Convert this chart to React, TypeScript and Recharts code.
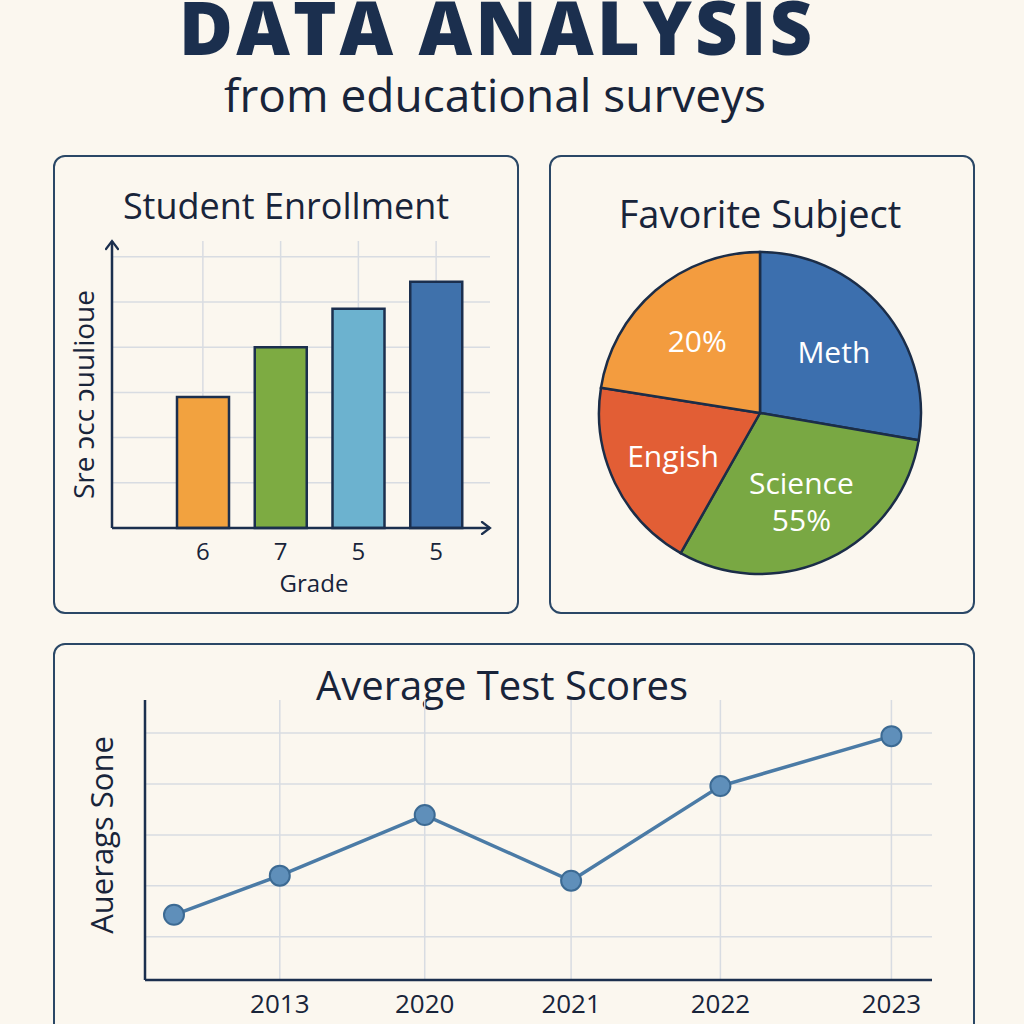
import React from 'react';
import {
  Bar,
  BarChart,
  CartesianGrid,
  Cell,
  Line,
  LineChart,
  Pie,
  PieChart,
  XAxis,
  YAxis,
} from 'recharts';

// Student enrollment (bar panel)
const grades = ['6', '7', '5', '5'];
const enrollment = [29, 40, 48.5, 54.5];
const enrollmentTicks = [10, 20, 30, 40, 50, 60];

// Favorite subject (pie panel)
const subjects = ['Math', 'Science', 'English', 'Other'];
const subjectShares = [27.7, 30.5, 19.3, 22.5];
const subjectLabels = [['Meth'], ['Science', '55%'], ['Engish'], ['20%']];

// Average test scores (line panel)
const scoreSlot = [0.2, 0.93, 1.93, 2.94, 3.97, 5.15];
const scoreYears = ['', '2013', '2020', '2021', '2022', '2023'];
const scores = [64.3, 72, 83.9, 71, 89.6, 99.4];
const scoreTicks = [60, 70, 80, 90, 100];

const NAVY = '#1b2f4e';
const INK = '#18243a';
const BORDER = '#2a4766';
const GRID = '#d8dce2';
const BAR_COLORS = ['#f2a23f', '#7dab42', '#6cb2cf', '#3f71ab'];
const PIE_COLORS = ['#3c6fae', '#79a843', '#e25e35', '#f39c3f'];
const FONT = '"Open Sans", "Noto Sans", sans-serif';

const barData = grades.map((g, i) => ({ grade: g, count: enrollment[i] }));
const pieData = subjects.map((s, i) => ({ name: s, value: subjectShares[i] }));
const lineData = scoreSlot.map((x, i) => ({ x, score: scores[i], year: scoreYears[i] }));

const panel = (left: number, top: number, width: number, height: number): React.CSSProperties => ({
  position: 'absolute',
  left,
  top,
  width,
  height,
  boxSizing: 'border-box',
  border: `2.5px solid ${BORDER}`,
  borderRadius: 12,
});

// y ticks are kept (for the grid) but drawn blank
const blank = () => '';

function ArrowDefs({ id }: { id: string }) {
  return (
    <defs>
      <marker
        id={id}
        markerWidth={14}
        markerHeight={14}
        refX={10}
        refY={7}
        orient="auto-start-reverse"
        markerUnits="userSpaceOnUse"
      >
        <path d="M2,1 L10,7 L2,13" fill="none" stroke={NAVY} strokeWidth={2.2} strokeLinecap="round" />
      </marker>
    </defs>
  );
}

function EnrollmentChart() {
  return (
    <BarChart width={466} height={380} data={barData} margin={{ top: 11, right: 29, bottom: 0, left: 0 }}>
      <ArrowDefs id="barArrow" />
      <CartesianGrid stroke={GRID} strokeWidth={1.5} syncWithTicks />
      <XAxis
        dataKey="grade"
        padding={{ left: 52, right: 15 }}
        height={82}
        tickLine={false}
        tickSize={0}
        tickMargin={15}
        tick={{ fontSize: 24, fill: INK, fontFamily: FONT }}
        axisLine={{ stroke: NAVY, strokeWidth: 2.5, markerEnd: 'url(#barArrow)' }}
        label={{ value: 'Grade', position: 'insideBottom', offset: 18, dx: 13, fontSize: 24, fill: INK, fontFamily: FONT }}
      />
      <YAxis
        domain={[0, 63.5]}
        ticks={enrollmentTicks}
        width={59}
        tickFormatter={blank}
        tickLine={false}
        axisLine={{ stroke: NAVY, strokeWidth: 2.5, markerStart: 'url(#barArrow)' }}
        label={{
          value: 'Sre ɔcc ɔuulioue',
          angle: -90,
          position: 'center',
          dx: 2,
          dy: 10,
          fontSize: 28,
          fill: INK,
          fontFamily: FONT,
        }}
      />
      <Bar dataKey="count" barSize={52} stroke={NAVY} strokeWidth={2.5} isAnimationActive={false}>
        {barData.map((_, i) => (
          <Cell key={i} fill={BAR_COLORS[i % BAR_COLORS.length]} />
        ))}
      </Bar>
    </BarChart>
  );
}

const RAD = Math.PI / 180;

function renderSliceLabel(props: any) {
  const { cx, cy, midAngle, outerRadius, index } = props;
  const r = outerRadius * 0.6;
  const x = cx + r * Math.cos(-midAngle * RAD);
  const y = cy + r * Math.sin(-midAngle * RAD);
  const lines = subjectLabels[index];
  const lh = 37;
  const startY = y - ((lines.length - 1) * lh) / 2;
  return (
    <text
      x={x}
      y={startY}
      fill="#ffffff"
      textAnchor="middle"
      dominantBaseline="central"
      fontSize={30}
      fontFamily={FONT}
    >
      {lines.map((l, i) => (
        <tspan key={i} x={x} y={startY + i * lh}>
          {l}
        </tspan>
      ))}
    </text>
  );
}

function SubjectChart() {
  return (
    <PieChart width={426} height={360} margin={{ top: 0, right: 0, bottom: 0, left: 0 }}>
      <Pie
        data={pieData}
        dataKey="value"
        nameKey="name"
        cx={211}
        cy={173}
        outerRadius={161}
        startAngle={90}
        endAngle={-270}
        stroke="#1b2d48"
        strokeWidth={2.5}
        label={renderSliceLabel}
        labelLine={false}
        isAnimationActive={false}
      >
        {pieData.map((_, i) => (
          <Cell key={i} fill={PIE_COLORS[i % PIE_COLORS.length]} />
        ))}
      </Pie>
    </PieChart>
  );
}

function ScoresChart() {
  return (
    <LineChart width={922} height={334} data={lineData} margin={{ top: 10, right: 43, bottom: 0, left: 0 }}>
      <CartesianGrid stroke={GRID} strokeWidth={1.5} syncWithTicks />
      <XAxis
        dataKey="x"
        type="number"
        domain={[0, 5.43]}
        ticks={scoreSlot.slice(1)}
        tickFormatter={(v: number) => scoreYears[scoreSlot.indexOf(v)]}
        height={44}
        tickLine={false}
        tickSize={0}
        tickMargin={15}
        tick={{ fontSize: 26, fill: INK, fontFamily: FONT }}
        axisLine={{ stroke: NAVY, strokeWidth: 2.5 }}
      />
      <YAxis
        domain={[51.5, 106.5]}
        ticks={scoreTicks}
        width={92}
        tickFormatter={blank}
        tickLine={false}
        axisLine={{ stroke: NAVY, strokeWidth: 2.5 }}
        label={{
          value: 'Auerags Sone',
          angle: -90,
          position: 'center',
          dx: 3,
          dy: -5,
          fontSize: 31,
          fill: INK,
          fontFamily: FONT,
        }}
      />
      <Line
        type="linear"
        dataKey="score"
        stroke="#4b7ba6"
        strokeWidth={3.5}
        dot={{ r: 10, fill: '#5f8fba', stroke: '#3c6a93', strokeWidth: 2 }}
        isAnimationActive={false}
      />
    </LineChart>
  );
}

export default function App() {
  return (
    <div
      style={{
        position: 'absolute',
        left: 0,
        top: 0,
        width: 1024,
        height: 1024,
        overflow: 'hidden',
        background: '#fbf7ef',
        fontFamily: FONT,
      }}
    >
      <svg width={1024} height={1024} style={{ position: 'absolute', left: 0, top: 0 }}>
        <text
          x={497}
          y={55}
          textAnchor="middle"
          fontSize={74}
          fontWeight={800}
          letterSpacing={3}
          fill={NAVY}
          fontFamily={FONT}
        >
          DATA ANALYSIS
        </text>
        <text x={495} y={112} textAnchor="middle" fontSize={46} fill={INK} fontFamily={FONT}>
          from educational surveys
        </text>
        <text x={286} y={219} textAnchor="middle" fontSize={36} fill={INK} fontFamily={FONT}>
          Student Enrollment
        </text>
        <text x={760} y={228} textAnchor="middle" fontSize={38} fill={INK} fontFamily={FONT}>
          Favorite Subject
        </text>
        <text x={502} y={700} textAnchor="middle" fontSize={40} fill={INK} fontFamily={FONT}>
          Average Test Scores
        </text>
      </svg>
      <div style={panel(53, 155, 466, 459)} />
      <div style={panel(549, 155, 426, 459)} />
      <div style={panel(53, 643, 922, 420)} />
      <div style={{ position: 'absolute', left: 53, top: 230 }}>
        <EnrollmentChart />
      </div>
      <div style={{ position: 'absolute', left: 549, top: 240 }}>
        <SubjectChart />
      </div>
      <div style={{ position: 'absolute', left: 53, top: 690 }}>
        <ScoresChart />
      </div>
    </div>
  );
}
